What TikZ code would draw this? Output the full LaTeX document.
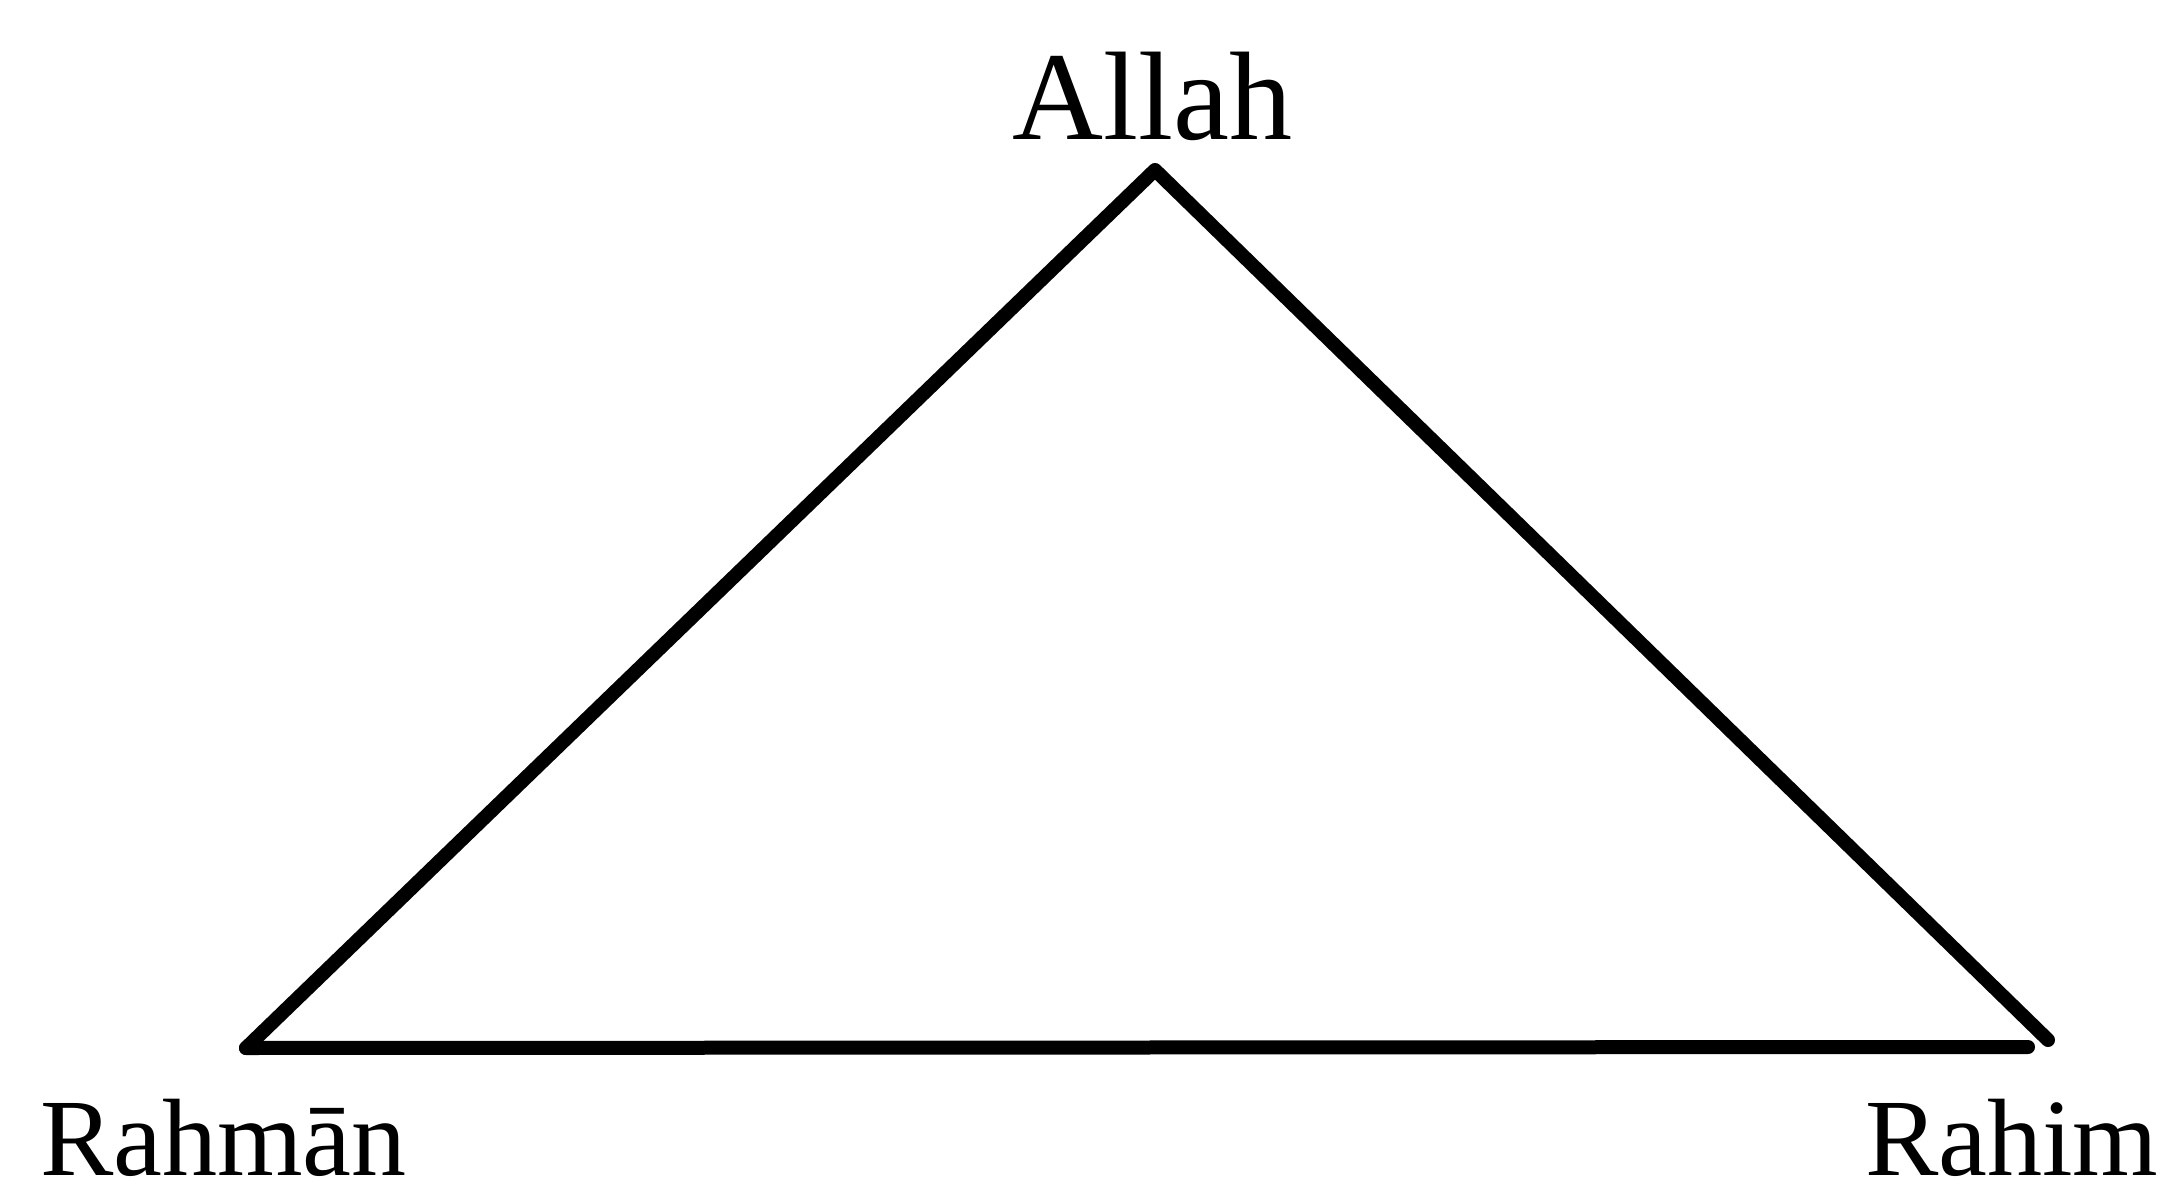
\documentclass[tikz,border=0pt]{standalone}
\usepackage{fontspec}
\setmainfont{Liberation Serif}
\begin{document}
\begin{tikzpicture}[x=0.5pt,y=-0.5pt,
  edge/.style={line width=7pt,line cap=round,line join=round,black},
  lbl/.style={inner sep=0pt,outer sep=0pt,anchor=base,font=\fontsize{55pt}{60pt}\selectfont},
  toplbl/.style={lbl,font=\fontsize{63pt}{68pt}\selectfont}]
\useasboundingbox (0,0) rectangle (2166,1186);
\fill[white] (0,0) rectangle (2166,1186);
\coordinate (apex) at (1155,170);
\coordinate (left) at (246,1048);
\coordinate (right) at (2048,1040);
\coordinate (bend) at (2028,1047);
\draw[edge] (left) -- (apex) -- (right);
\draw[edge] (left) -- (bend);
\node[toplbl] (allah) at (1152,140) {Allah};
\node[lbl,anchor=base west] (rahman) at (40,1175) {Rahmān};
\node[lbl,anchor=base west] (rahim) at (1865,1175) {Rahim};
\end{tikzpicture}
\end{document}
